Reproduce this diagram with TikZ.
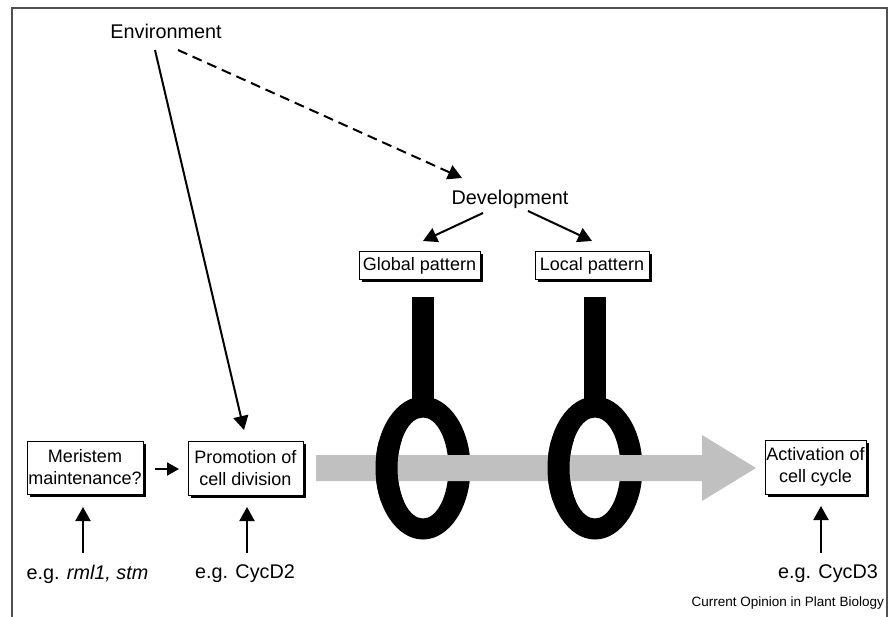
\documentclass[tikz,border=0pt]{standalone}
\usepackage{fontspec}
\setmainfont{Liberation Sans}
\usetikzlibrary{arrows.meta,shadows}
\newcommand{\lblfont}{\fontsize{19.8}{22}\selectfont}
\newcommand{\boxfont}{\fontsize{18}{22}\selectfont}
\newcommand{\hookring}[1]{\fill[black,even odd rule] (#1,468) ellipse [x radius=47.5pt, y radius=71.5pt] (#1,468) ellipse [x radius=25.5pt, y radius=50.5pt];}
\definecolor{bargray}{RGB}{192,192,192}
\definecolor{framegray}{RGB}{80,80,80}
\begin{document}
\begin{tikzpicture}[x=1pt,y=-1pt,
  box/.style={draw=black, line width=1pt, fill=white, align=center, inner sep=0pt, font=\boxfont,
    drop shadow={shadow xshift=2.5pt, shadow yshift=-2.5pt, fill=black, opacity=1}},
  lbl/.style={font=\lblfont, inner sep=0pt},
  arr/.style={line width=2pt, -{Triangle[length=14pt,width=15pt]}},
  dasharr/.style={arr, dash pattern=on 10pt off 6pt}]
\useasboundingbox (0,0) rectangle (896,617);
% frame
\draw[framegray, line width=1.6pt] (12,617) -- (12,8) -- (887,8) -- (887,617);

% labels
\node[lbl] (env) at (166,31) {Environment};
\node[lbl] (dev) at (510,199) {Development};

% pattern boxes
\node[box, minimum width=121pt, minimum height=28pt] (glob) at (419.5,266) {Global pattern};
\node[box, minimum width=114pt, minimum height=28pt] (loc) at (592,266) {Local pattern};

% rings and stems
\fill[black] (412,297) rectangle (434,402);
\fill[black] (584,297) rectangle (606,402);
\hookring{423}
\hookring{595}

% grey arrow
\fill[bargray] (316,455) -- (702,455) -- (702,435) -- (756,468) -- (702,501) -- (702,481) -- (316,481) -- cycle;

% left sides of rings over the bar
\begin{scope}
\clip (360,440) rectangle (423,500);
\hookring{423}
\end{scope}
\begin{scope}
\clip (532,440) rectangle (595,500);
\hookring{595}
\end{scope}

% bottom boxes
\node[box, minimum width=116pt, minimum height=53pt] (mer) at (85,467.5) {Meristem\\maintenance?};
\node[box, minimum width=115pt, minimum height=54pt] (prom) at (245.5,468) {Promotion of\\cell division};
\node[box, minimum width=101pt, minimum height=54pt] (act) at (815.5,467) {Activation of\\cell cycle};

% bottom labels
\node[lbl] (l1) at (87.5,574) {e.g. \textit{rml1, stm}};
\node[lbl] (l2) at (245,574) {e.g. CycD2};
\node[lbl] (l3) at (828,574) {e.g. CycD3};
\node[font=\fontsize{13.5}{16}\selectfont, inner sep=0pt, anchor=east] (cop) at (884,603) {Current Opinion in Plant Biology};

% connectors
\coordinate (envA) at (155,50);
\coordinate (envB) at (178,50);
\coordinate (envT) at (244,430);
\coordinate (devT) at (462,178);
\draw[arr] (envA) -- (envT);
\draw[dasharr] (envB) -- (devT);

\coordinate (devL) at (483,213);
\coordinate (devR) at (528,211);
\coordinate (globT) at (423,241);
\coordinate (locT) at (592,241);
\draw[arr] (devL) -- (globT);
\draw[arr] (devR) -- (locT);

\coordinate (m1) at (155,469);
\coordinate (m2) at (179,469);
\draw[line width=2pt, -{Triangle[length=12pt,width=13pt]}] (m1) -- (m2);

\coordinate (b1) at (83,553);
\coordinate (b1t) at (83,507);
\coordinate (b2) at (247,553);
\coordinate (b2t) at (247,507);
\coordinate (b3) at (821,553);
\coordinate (b3t) at (821,506);
\draw[arr] (b1) -- (b1t);
\draw[arr] (b2) -- (b2t);
\draw[arr] (b3) -- (b3t);
\end{tikzpicture}
\end{document}
